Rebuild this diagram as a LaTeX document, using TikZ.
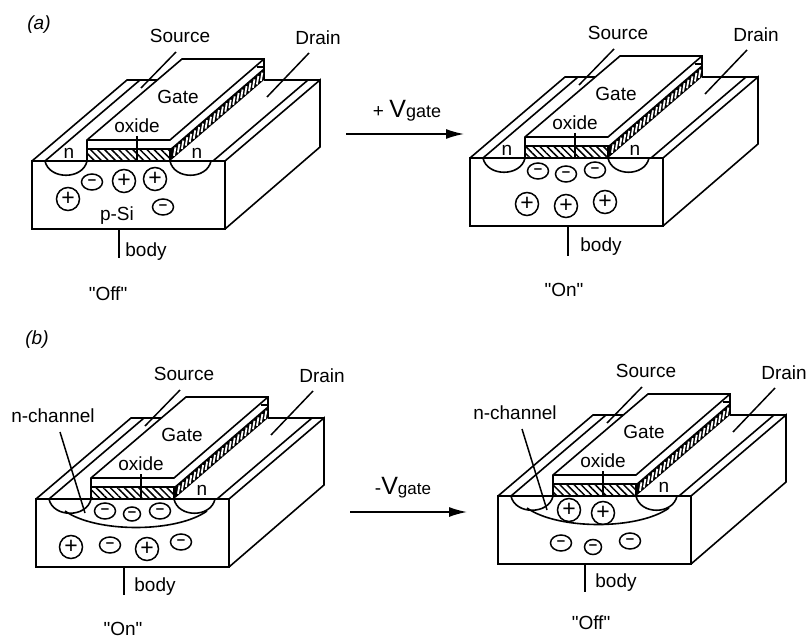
\documentclass[tikz,border=0pt]{standalone}
\usepackage{fontspec}
\setmainfont{Liberation Sans}
\newfontfamily\quotefont{Liberation Sans}
\usetikzlibrary{arrows.meta, patterns.meta, shapes.geometric}

\tikzset{
  every node/.style={font=\fontsize{19}{21}\selectfont, inner sep=0pt},
  edge line/.style={line width=1.6pt, line join=miter},
  thin line/.style={line width=1.3pt},
  pointer line/.style={line width=1.5pt},
  flow arrow/.style={line width=1.6pt, -{Latex[length=18pt, width=10pt]}},
  hole charge/.style={circle, draw, line width=1.5pt, minimum size=23pt, font=\fontsize{23}{23}\selectfont},
  electron charge/.style={ellipse, draw, line width=1.5pt, minimum width=21pt, minimum height=16pt, font=\fontsize{15}{15}\selectfont\bfseries},
  state label/.style={font=\fontsize{19}{21}\selectfont\quotefont},
}

% one transistor, local origin at the front top left corner
\newcommand{\mosfet}[1]{
  \coordinate (#1 fl) at (0,0);
  \coordinate (#1 fr) at (193,0);
  \coordinate (#1 bl) at (0,-68);
  \coordinate (#1 br) at (193,-68);
  \coordinate (#1 tr) at (288,81);
  \coordinate (#1 sr) at (288,14);
  % body block
  \draw[edge line] (#1 fl) -- (#1 fr) -- (#1 br) -- (#1 bl) -- cycle;
  \draw[edge line] (#1 fr) -- (#1 tr) -- (#1 sr) -- (#1 br);
  \draw[edge line] (#1 fl) -- (95,81) -- (125,81);
  \draw[edge line] (13,0) -- (108,81);
  \draw[edge line] (181,0) -- (276,81);
  \draw[edge line] (232,81) -- (#1 tr);
  % gate stack
  \draw[edge line] (55,0) -- (55,21) -- (150,102) -- (232,102) -- (232,81);
  \draw[edge line] (55,21) -- (138,21) -- (232,102);
  \draw[edge line, pattern={Lines[angle=-45, distance=5pt, line width=1.5pt]}] (55,0) rectangle (138,12);
  \draw[thin line] (225,94) -- (232,94);
  % side of the oxide
  \fill (138,0) -- (232,81) -- (232,93) -- (138,12) -- cycle;
  \foreach \i in {1,...,23}
    \draw[white, line width=1.8pt] ({138+3.95*\i},{1.8+3.4*\i}) -- ({139.5+3.95*\i},{10.2+3.4*\i});
  % wells
  \draw[edge line] (13,0) .. controls (17,-19) and (51,-19) .. (55,0);
  \draw[edge line] (138,0) .. controls (142,-19) and (175,-19) .. (179,0);
  % labels
  \node (#1 gate) at (146,64) {Gate};
  \node (#1 oxide) at (105,35) {oxide};
  \node (#1 source) at (148,125) {Source};
  \node (#1 drain) at (286,123) {Drain};
  \coordinate (#1 so) at (144,109);
  \coordinate (#1 si) at (109,73);
  \coordinate (#1 do) at (277,108);
  \coordinate (#1 di) at (235,64);
  \coordinate (#1 ot) at (105,25);
  \coordinate (#1 ob) at (105,0);
  \draw[pointer line] (#1 so) -- (#1 si);
  \draw[pointer line] (#1 do) -- (#1 di);
  \draw[thin line] (#1 ot) -- (#1 ob);
}

% the inversion layer and its pointer
\newcommand{\nchannel}[1]{
  \draw[edge line] (29,-12) .. controls (60,-34) and (140,-34) .. (171,-12);
  \node (#1 nlabel) at (17,83) {n-channel};
  \coordinate (#1 np) at (24,67);
  \coordinate (#1 nq) at (49,-14);
  \draw[pointer line] (#1 np) -- (#1 nq);
}

\begin{document}
\begin{tikzpicture}[x=1pt, y=1pt]
\useasboundingbox (0,0) rectangle (808,-639);

\node (labela) at (39,-25) {\itshape (a)};
\node (labelb) at (37,-340) {\itshape (b)};

% (a) off
\begin{scope}[shift={(32,-161)}]
\mosfet{A}
\node (A n1) at (37,8) {n};
\node (A n2) at (165,8) {n};
\node (A psi) at (85,-55) {p-Si};
\node[hole charge] (A h1) at (36,-38) {+};
\node[electron charge] (A e1) at (60,-21) {–};
\node[hole charge] (A h2) at (92,-20) {+};
\node[hole charge] (A h3) at (123,-18) {+};
\node[electron charge] (A e2) at (131,-46) {–};
\coordinate (A bt) at (87,-68);
\coordinate (A bb) at (87,-97);
\draw[thin line] (A bt) -- (A bb);
\node (A body) at (114,-91) {body};
\node[state label] (A state) at (76,-133) {"Off"};
\end{scope}

% (a) on
\begin{scope}[shift={(470,-158)}]
\mosfet{B}
\node (B n1) at (37,8) {n};
\node (B n2) at (165,8) {n};
\node[electron charge] (B e1) at (68,-13) {–};
\node[electron charge] (B e2) at (96,-16) {–};
\node[electron charge] (B e3) at (125,-12) {–};
\node[hole charge] (B h1) at (57,-46) {+};
\node[hole charge] (B h2) at (96,-48) {+};
\node[hole charge] (B h3) at (135,-44) {+};
\coordinate (B bt) at (98,-68);
\coordinate (B bb) at (98,-98);
\draw[thin line] (B bt) -- (B bb);
\node (B body) at (131,-89) {body};
\node[state label] (B state) at (94,-132) {"On"};
\end{scope}

% (b) on
\begin{scope}[shift={(36,-499)}]
\mosfet{C}
\nchannel{C}
\node (C n2) at (166,9) {n};
\node[electron charge] (C e1) at (69,-12) {–};
\node[electron charge, minimum width=17pt, minimum height=14pt] (C e2) at (96,-15) {–};
\node[electron charge] (C e3) at (124,-12) {–};
\node[hole charge] (C h1) at (35,-48) {+};
\node[electron charge] (C e4) at (74,-46) {–};
\node[hole charge] (C h2) at (111,-50) {+};
\node[electron charge] (C e5) at (145,-43) {–};
\coordinate (C bt) at (88,-68);
\coordinate (C bb) at (88,-96);
\draw[thin line] (C bt) -- (C bb);
\node (C body) at (119,-88) {body};
\node[state label] (C state) at (87,-130) {"On"};
\end{scope}

% (b) off
\begin{scope}[shift={(498,-496)}]
\mosfet{D}
\nchannel{D}
\node (D n2) at (166,9) {n};
\node[hole charge] (D h1) at (71,-14) {+};
\node[hole charge] (D h2) at (105,-17) {+};
\node[electron charge] (D e1) at (63,-47) {–};
\node[electron charge, minimum width=17pt, minimum height=15pt] (D e2) at (95,-51) {–};
\node[electron charge] (D e3) at (132,-45) {–};
\coordinate (D bt) at (87,-68);
\coordinate (D bb) at (87,-96);
\draw[thin line] (D bt) -- (D bb);
\node (D body) at (118,-87) {body};
\node[state label] (D state) at (93,-127) {"Off"};
\end{scope}

\coordinate (upfrom) at (346,-134);
\coordinate (upto) at (464,-134);
\draw[flow arrow] (upfrom) -- (upto);
\node (upgate) at (407,-111) {+ {\fontsize{25}{25}\selectfont V}{\fontsize{18}{18}\selectfont gate}};
\coordinate (downfrom) at (350,-512);
\coordinate (downto) at (467,-512);
\draw[flow arrow] (downfrom) -- (downto);
\node (downgate) at (403,-488) {-{\fontsize{25}{25}\selectfont V}{\fontsize{17}{17}\selectfont gate}};
\end{tikzpicture}
\end{document}
